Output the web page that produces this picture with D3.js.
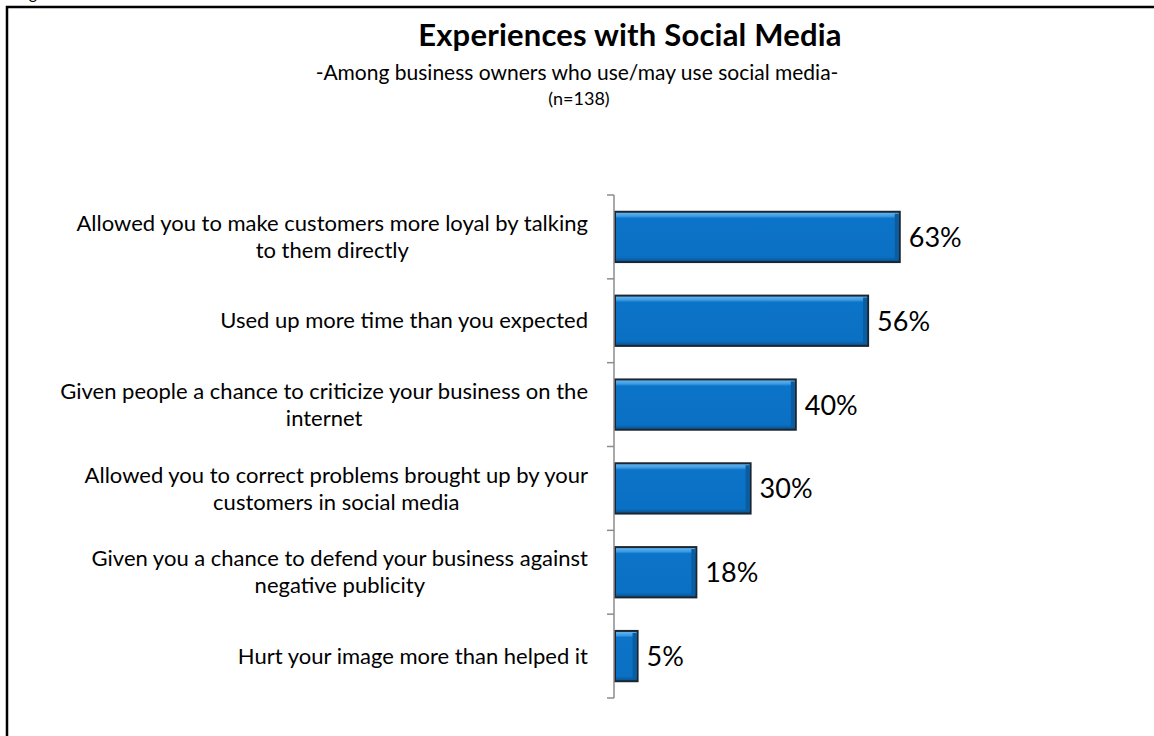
<!DOCTYPE html>
<html>
<head>
<meta charset="utf-8">
<script src="https://cdn.jsdelivr.net/npm/d3@7"></script>
<style>
  body { margin: 0; background: #fff; }
  text { font-family: Lato, "Open Sans", sans-serif; fill: #000; }
</style>
</head>
<body>
<script>
    //chart data
    var categories = [
        ["Allowed you to make customers more loyal by talking", "to them directly"],
        ["Used up more time than you expected"],
        ["Given people a chance to criticize your business on the", "internet"],
        ["Allowed you to correct problems brought up by your", "customers in social media"],
        ["Given you a chance to defend your business against", "negative publicity"],
        ["Hurt your image more than helped it"]
    ];
    var values = [63, 56, 40, 30, 18, 5];
    var valueLabels = ["63%", "56%", "40%", "30%", "18%", "5%"];

    var w = 1154, h = 736;
    var svg = d3.select("body")
        .append("svg")
        .attr("width", w)
        .attr("height", h);

    //outer frame (runs off the right and bottom edges)
    svg.append("rect")
        .attr("x", 7)
        .attr("y", 7)
        .attr("width", w + 20)
        .attr("height", h + 20)
        .style("fill", "none")
        .style("stroke", "#000")
        .style("stroke-width", 2.5);

    //caption above the frame, mostly cut off
    svg.append("text")
        .attr("x", 16)
        .attr("y", -1)
        .style("font-size", "16px")
        .text("Figure");

    //titles
    svg.append("text")
        .attr("x", 630).attr("y", 46)
        .attr("text-anchor", "middle")
        .style("font-size", "31px")
        .style("font-weight", "bold")
        .style("letter-spacing", "0.2px")
        .text("Experiences with Social Media");
    svg.append("text")
        .attr("x", 577).attr("y", 80)
        .attr("text-anchor", "middle")
        .style("font-size", "21px")
        .text("-Among business owners who use/may use social media-");
    svg.append("text")
        .attr("x", 579).attr("y", 105)
        .attr("text-anchor", "middle")
        .style("font-size", "18px")
        .text("(n=138)");

    //scales
    var x = d3.scaleLinear()
        .domain([0, 100])
        .range([614, 1066]);

    var y = d3.scaleBand()
        .domain(d3.range(values.length))
        .range([195, 698])
        .paddingInner(0.4)
        .paddingOuter(0.2);

    //bevel gradient for the bars
    var defs = svg.append("defs");
    var grad = defs.append("linearGradient")
        .attr("id", "barGrad")
        .attr("x1", 0).attr("y1", 0).attr("x2", 0).attr("y2", 1);
    grad.append("stop").attr("offset", "0%").attr("stop-color", "#6cbcf4");
    grad.append("stop").attr("offset", "9%").attr("stop-color", "#3a9ae2");
    grad.append("stop").attr("offset", "13%").attr("stop-color", "#0c74c8");
    grad.append("stop").attr("offset", "90%").attr("stop-color", "#0a70c4");
    grad.append("stop").attr("offset", "100%").attr("stop-color", "#07508c");

    var bars = svg.selectAll(".bar")
        .data(values)
        .enter()
        .append("g")
        .attr("class", "bar");

    bars.append("rect")
        .attr("x", x(0) + 1)
        .attr("y", function(d, i){ return y(i); })
        .attr("width", function(d){ return x(d) - x(0); })
        .attr("height", y.bandwidth())
        .style("fill", "url(#barGrad)")
        .style("stroke", "#1c2630")
        .style("stroke-width", 2);

    //darker right edge of the bevel
    bars.append("rect")
        .attr("x", function(d){ return x(d) - 4; })
        .attr("y", function(d, i){ return y(i) + 2; })
        .attr("width", 4)
        .attr("height", y.bandwidth() - 4)
        .style("fill", "#0a5da0");

    //value labels
    svg.selectAll(".valLabel")
        .data(values)
        .enter()
        .append("text")
        .attr("class", "valLabel")
        .attr("x", function(d){ return x(d) + 10; })
        .attr("y", function(d, i){ return y(i) + y.bandwidth() / 2 + 10; })
        .style("font-size", "27px")
        .text(function(d, i){ return valueLabels[i]; });

    //vertical axis with ticks between categories
    var axis = svg.append("g")
        .attr("class", "axis");
    axis.append("line")
        .attr("x1", x(0)).attr("x2", x(0))
        .attr("y1", y.range()[0]).attr("y2", y.range()[1])
        .style("stroke", "#8c8c8c")
        .style("stroke-width", 1.5);
    axis.selectAll(".tick")
        .data(d3.range(values.length + 1))
        .enter()
        .append("line")
        .attr("x1", x(0) - 7).attr("x2", x(0))
        .attr("y1", function(d){ return y.range()[0] + d * (y.range()[1] - y.range()[0]) / values.length; })
        .attr("y2", function(d){ return y.range()[0] + d * (y.range()[1] - y.range()[0]) / values.length; })
        .style("stroke", "#8c8c8c")
        .style("stroke-width", 1.5);

    //category labels: block right-aligned, lines centred within the block
    var labelRight = 588, lineH = 27, fs = 22;
    categories.forEach(function(lines, i){
        var g = svg.append("g").attr("class", "catLabel");
        var cy = y(i) + y.bandwidth() / 2;
        var top = cy - (lines.length - 1) * lineH / 2 + fs * 0.35;
        var texts = g.selectAll("text")
            .data(lines)
            .enter()
            .append("text")
            .attr("text-anchor", "middle")
            .attr("y", function(d, j){ return top + j * lineH; })
            .style("font-size", fs + "px")
            .text(function(d){ return d; });
        var maxW = d3.max(texts.nodes(), function(n){ return n.getComputedTextLength(); });
        texts.attr("x", labelRight - maxW / 2);
    });
</script>
</body>
</html>
